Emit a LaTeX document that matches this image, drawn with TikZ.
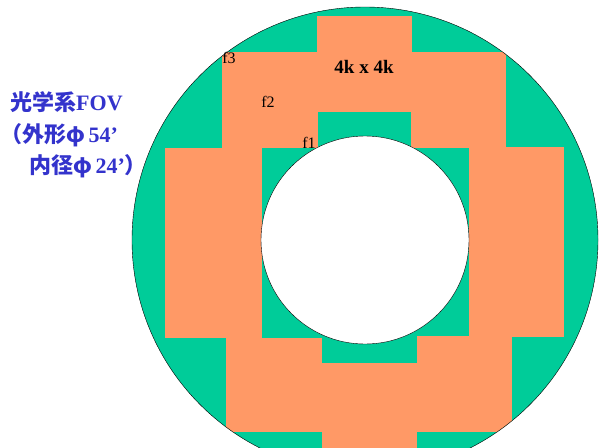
\documentclass[tikz,border=0pt]{standalone}
\usepackage{fontspec}
\setmainfont{Liberation Serif}
\newfontfamily\cjk{Noto Sans CJK JP}
\usetikzlibrary{positioning}

\definecolor{fovgreen}{RGB}{0,204,153}
\definecolor{chiporange}{RGB}{255,153,102}
\definecolor{fovblue}{RGB}{51,51,204}

\tikzset{
  chip/.style={fill=chiporange, draw=none},
  flabel/.style={inner sep=0pt, font=\fontsize{16}{16}\selectfont},
  fovtext/.style={anchor=base west, inner sep=0pt, text=fovblue,
    font=\bfseries\fontsize{22}{22}\selectfont}
}

\begin{document}
\begin{tikzpicture}[x=1pt,y=-1pt]
    \useasboundingbox (0,0) rectangle (599,447);
    % 視野 (FOV)
    \begin{scope}
      \clip (0,0) rectangle (599,447);
      \fill[fovgreen] (365,240) circle (233pt);
      % 4k x 4k チップ
      \begin{scope}
        \clip (365,240) circle (233pt);
        \foreach \xa/\ya/\xb/\yb in {317/16/412/53, 222/52/318/148,
            318/52/411/112, 411/52/506/148, 165/148/262/338,
            469/147/564/337, 226/338/322/432, 322/363/417/432,
            417/336/512/432, 322/432/417/470} {
            \fill[chip] (\xa,\ya) rectangle (\xb,\yb);
          }
      \end{scope}
      \draw[thin] (365,240) circle (233pt);
      \filldraw[fill=white, draw=black, thin] (365,240) circle (104pt);
    \end{scope}
    % ラベル
    \node[inner sep=0pt, font=\bfseries\fontsize{19}{19}\selectfont] (size) at (364,67) {4k x 4k};
    \foreach \name/\x/\y in {f1/309/143, f2/268/102, f3/229/58} {
        \node[flabel] (\name) at (\x,\y) {\name};
      }
    \node[fovtext] (fov1) at (10,110) {{\cjk 光学系}FOV};
    \node[fovtext] (fov2) at (0,142) {{\cjk （外形φ}\,54’};
    \node[fovtext] (fov3) at (29,173) {{\cjk 内径φ}\,24’{\cjk ）}};
  \end{tikzpicture}
\end{document}
